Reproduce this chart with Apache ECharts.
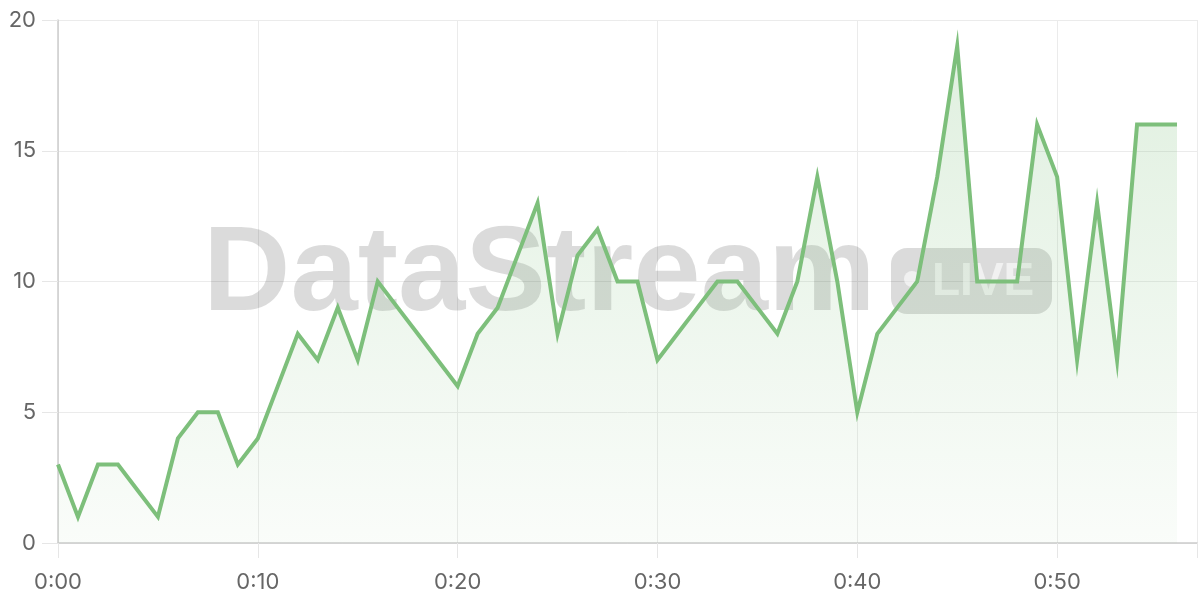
<!DOCTYPE html>
<html>
<head>
<meta charset="utf-8">
<script src="https://cdn.jsdelivr.net/npm/echarts@6/dist/echarts.min.js"></script>
<style>
html,body{margin:0;padding:0;background:#fff;}
#c{width:1200px;height:600px;}
</style>
</head>
<body>
<div id="c"></div>
<script>
// minute index of each sample (x position in minutes)
const minutes = [0,1,2,3,4,5,6,7,8,9,10,11,12,13,14,15,16,17,18,19,20,21,22,23,24,25,26,27,28,29,30,31,32,33,34,35,36,37,38,39,40,41,42,43,44,45,46,47,48,49,50,51,52,53,54,55,56];
// value per minute
const values = [3,1,3,3,2,1,4,5,5,3,4,6,8,7,9,7,10,9,8,7,6,8,9,11,13,8,11,12,10,10,7,8,9,10,10,9,8,10,14,10,5,8,9,10,14,19,10,10,10,16,14,7,13,7,16,16,16];
// x tick labels (every 10 minutes)
const xTickLabels = ['0:00','0:10','0:20','0:30','0:40','0:50'];
const yTicks = [0,5,10,15,20];

const chart = echarts.init(document.getElementById('c'), null, {renderer:'canvas'});
const labelFont = 'Inter';
const green = '#7dbf7b';

chart.setOption({
  animation:false,
  backgroundColor:'#ffffff',
  grid:{left:58,right:0,top:20,bottom:57,containLabel:false},
  xAxis:{
    type:'value', min:0, max:57, interval:10,
    axisLine:{show:true,lineStyle:{color:'#cccccc',width:1.5}},
    axisTick:{show:true,length:15,lineStyle:{color:'#e6e6e6',width:1}},
    splitLine:{show:true,lineStyle:{color:'#ebebeb',width:1}},
    axisLabel:{
      margin:28, color:'#666666', fontSize:22, fontFamily:labelFont,
      formatter:function(v){const i=Math.round(v/10);return xTickLabels[i]!==undefined?xTickLabels[i]:'';}
    }
  },
  yAxis:{
    type:'value', min:yTicks[0], max:yTicks[yTicks.length-1], interval:5,
    axisLine:{show:true,lineStyle:{color:'#cccccc',width:1.5}},
    axisTick:{show:true,length:16,lineStyle:{color:'#e6e6e6',width:1}},
    splitLine:{show:true,lineStyle:{color:'#ebebeb',width:1}},
    axisLabel:{margin:22, color:'#666666', fontSize:22, fontFamily:labelFont}
  },
  graphic:[
    {type:'text', z:1, x:203, y:277,
      style:{text:'DataStream', font:'bold 121px "Liberation Sans"', fill:'rgba(0,0,0,0.14)', align:'left', verticalAlign:'middle'}},
    {type:'rect', z:1, shape:{x:891,y:248,width:161,height:66,r:16},
      style:{fill:'rgba(0,0,0,0.14)'}},
    {type:'circle', z:1, shape:{cx:912,cy:279,r:8},
      style:{fill:'rgba(255,255,255,0.6)'}},
    {type:'text', z:1, x:932, y:282,
      style:{text:'LIVE', font:'bold 46px "Liberation Sans"', fill:'rgba(255,255,255,0.6)', align:'left', verticalAlign:'middle'}}
  ],
  series:[{
    type:'line',
    data: minutes.map((m,i)=>[m, values[i]]),
    showSymbol:false,
    symbol:'none',
    lineStyle:{color:green,width:4,join:'miter'},
    itemStyle:{color:green},
    areaStyle:{
      color:new echarts.graphic.LinearGradient(0,0,0,1,[
        {offset:0,color:'rgba(125,191,123,0.34)'},
        {offset:1,color:'rgba(125,191,123,0.06)'}
      ])
    },
    z:2
  }]
});
</script>
</body>
</html>
